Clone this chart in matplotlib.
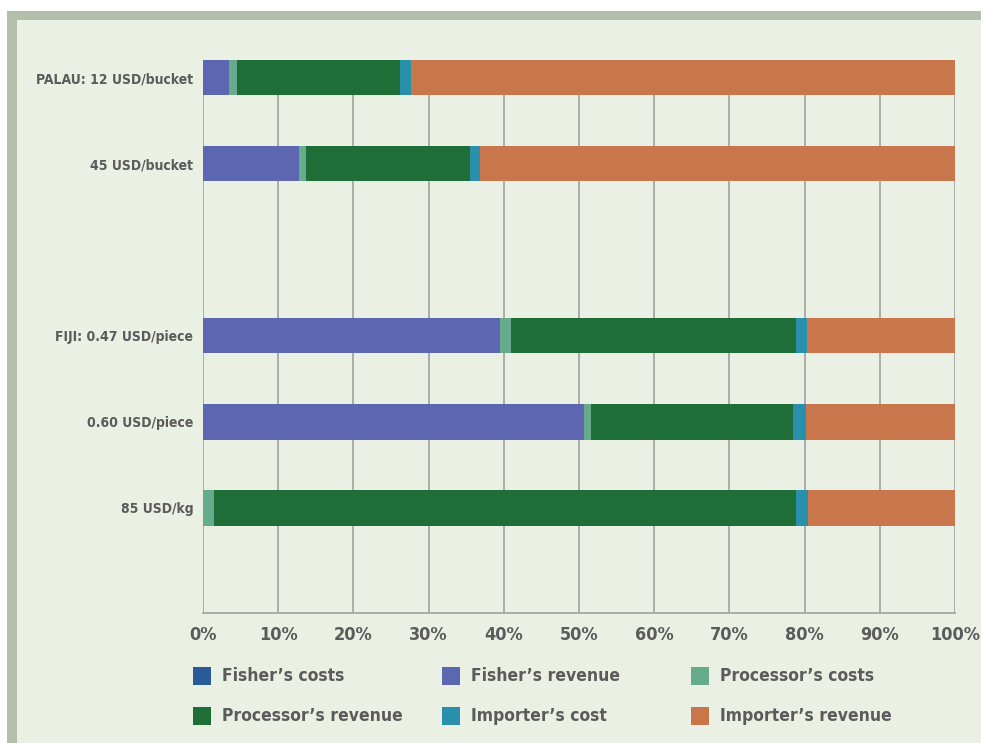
import numpy as np
import matplotlib.pyplot as plt
from matplotlib.patches import Rectangle

# data (percent share of final price)
labels = ["PALAU: 12 USD/bucket", "45 USD/bucket",
          "FIJI: 0.47 USD/piece", "0.60 USD/piece", "85 USD/kg"]
positions = [0, 1, 3, 4, 5]  # empty slot between Palau and Fiji

segments = ["Fisher’s costs", "Fisher’s revenue", "Processor’s costs",
            "Processor’s revenue", "Importer’s cost", "Importer’s revenue"]
colors = ["#2a5b99", "#5d66b0", "#66ab8c", "#206e37", "#2890ab", "#c9764c"]

fisher_costs = [0.0, 0.0, 0.0, 0.0, 0.0]
fisher_revenue = [3.4, 12.8, 39.5, 50.7, 0.0]
processor_costs = [1.1, 0.9, 1.4, 0.9, 1.5]
processor_revenue = [21.7, 21.8, 37.9, 26.9, 77.4]
importer_cost = [1.5, 1.3, 1.5, 1.7, 1.5]
importer_revenue = [72.3, 63.2, 19.7, 19.8, 19.6]

series = [fisher_costs, fisher_revenue, processor_costs,
          processor_revenue, importer_cost, importer_revenue]

text_color = "#5b5b5b"
bg = "#ebf0e5"
border = "#b3bfab"
plt.rcParams["font.family"] = ["DejaVu Sans"]
plt.rcParams["font.stretch"] = "condensed"
plt.rcParams["font.weight"] = "bold"

W, H = 981, 743
fig = plt.figure(figsize=(W / 100, H / 100), dpi=100, facecolor="white")

# frame: border band on top and left, pale background
fig.add_artist(Rectangle((7 / W, 0), 1, 1 - 11 / H, transform=fig.transFigure,
                         facecolor=border, edgecolor="none", zorder=-3))
fig.add_artist(Rectangle((17 / W, 0), 1, 1 - 20 / H, transform=fig.transFigure,
                         facecolor=bg, edgecolor="none", zorder=-2))

ax = fig.add_axes([203 / W, 1 - 613 / H, (955 - 203) / W, (613 - 60) / H])
ax.set_facecolor("none")

left = np.zeros(len(labels))
for name, vals, col in zip(segments, series, colors):
    vals = np.array(vals)
    ax.barh(positions, vals, left=left, height=0.41, color=col,
            label=name, zorder=3)
    left += vals

ax.set_xlim(0, 100)
ax.set_ylim(6.22, -0.205)
ax.set_xticks(np.arange(0, 101, 10))
ax.set_xticklabels([f"{v}%" for v in range(0, 101, 10)])
ax.set_yticks(positions)
ax.set_yticklabels(labels)

ax.grid(axis="x", color="#a6a6a6", linewidth=1.3, zorder=0)
for s in ["top", "right", "left"]:
    ax.spines[s].set_visible(False)
ax.spines["bottom"].set_color("#a6a6a6")
ax.spines["bottom"].set_linewidth(1.3)

ax.tick_params(axis="x", length=0, pad=9, labelsize=13, labelcolor=text_color)
ax.tick_params(axis="y", length=0, pad=7, labelsize=10, labelcolor=text_color)

# legend, 3 columns laid out row by row
col_x = [193, 442, 691]
row_y = [676, 716]
for i, (name, col) in enumerate(zip(segments, colors)):
    x = col_x[i % 3]
    y = row_y[i // 3]
    fig.add_artist(Rectangle((x / W, 1 - (y + 9) / H), 18 / W, 18 / H,
                             transform=fig.transFigure, facecolor=col,
                             edgecolor="none"))
    fig.text((x + 29) / W, 1 - y / H, name, color=text_color, fontsize=12.5,
             va="center", ha="left")

fig.savefig("out.png", dpi=100, facecolor="white")
